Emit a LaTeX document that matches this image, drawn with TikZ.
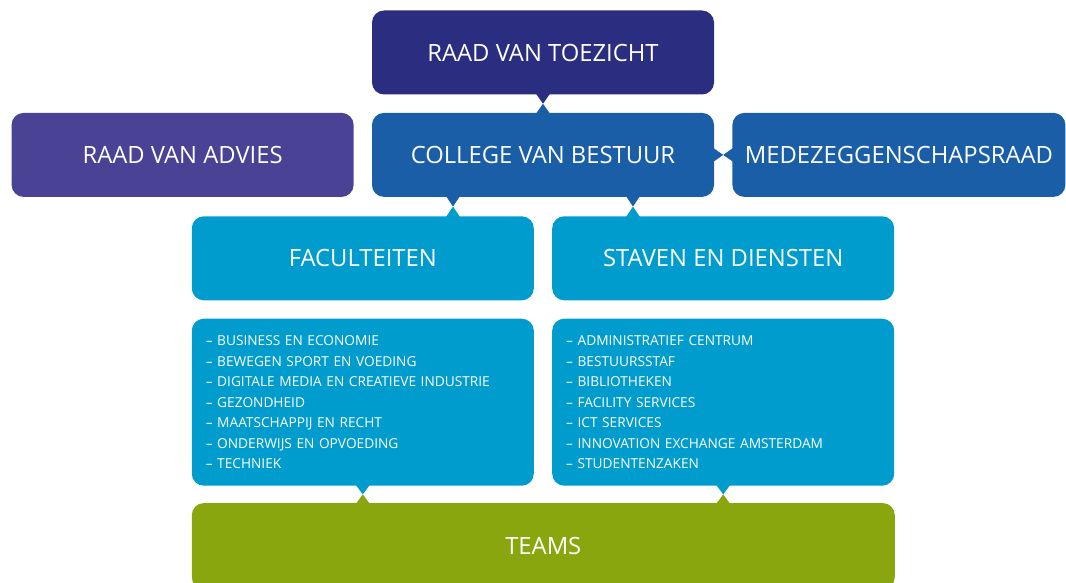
\documentclass[tikz,border=0pt]{standalone}
\usepackage{fontspec}
\setmainfont{Open Sans}
\usepackage{tikz}
\usetikzlibrary{positioning}
\usetikzlibrary{calc}
\definecolor{toezicht}{HTML}{2B2D80}
\definecolor{advies}{HTML}{4A4294}
\definecolor{bestuur}{HTML}{1A5EA8}
\definecolor{cyaan}{HTML}{009CCE}
\definecolor{teamgroen}{HTML}{8AA60F}

\begin{document}
\begin{tikzpicture}[x=1pt,y=-1pt,
	orgbox/.style={rounded corners=12pt,minimum width=342pt,minimum height=84pt,inner sep=0pt,text=white,font=\fontsize{23.8}{28}\selectfont},
	listbox/.style={orgbox,fill=cyaan,minimum height=167pt,text width=314pt,inner xsep=14pt,align=left,font=\fontsize{13.7}{20.5}\selectfont}]
\useasboundingbox (0,0) rectangle (1066,583);

%top row
\node[orgbox,fill=toezicht] (rvt) at (543,52.5) {RAAD VAN TOEZICHT};

%middle row
\node[orgbox,fill=bestuur,below=18pt of rvt] (cvb) {COLLEGE VAN BESTUUR};
\node[orgbox,fill=advies,left=18pt of cvb] (rva) {RAAD VAN ADVIES};
\node[orgbox,fill=bestuur,minimum width=333pt,right=18pt of cvb] (mzr) {MEDEZEGGENSCHAPSRAAD};

%faculteiten and staven
\node[orgbox,fill=cyaan,below left=19pt and 9pt of cvb.south] (fac) {FACULTEITEN};
\node[orgbox,fill=cyaan,below right=19pt and 9pt of cvb.south] (sta) {STAVEN EN DIENSTEN};

%lists
\node[listbox,below=18pt of fac] (facl) {%
	-- BUSINESS EN ECONOMIE\\
	-- BEWEGEN SPORT EN VOEDING\\
	-- DIGITALE MEDIA EN CREATIEVE INDUSTRIE\\
	-- GEZONDHEID\\
	-- MAATSCHAPPIJ EN RECHT\\
	-- ONDERWIJS EN OPVOEDING\\
	-- TECHNIEK};
\node[listbox,below=18pt of sta] (stal) {%
	-- ADMINISTRATIEF CENTRUM\\
	-- BESTUURSSTAF\\
	-- BIBLIOTHEKEN\\
	-- FACILITY SERVICES\\
	-- ICT SERVICES\\
	-- INNOVATION EXCHANGE AMSTERDAM\\
	-- STUDENTENZAKEN};

%teams
\node[orgbox,fill=teamgroen,minimum width=703pt,minimum height=86pt,below=17pt of facl.south west,anchor=north west] (teams) {TEAMS};

%vertical joints
\foreach \a/\b/\ca/\cb/\dx in {rvt/cvb/toezicht/bestuur/0,cvb/fac/bestuur/cyaan/-90,cvb/sta/bestuur/cyaan/90,facl/teams/cyaan/teamgroen/0,stal/teams/cyaan/teamgroen/0}{
	\coordinate (u) at ([xshift=\dx pt]\a.south);
	\coordinate (l) at (u |- \b.north);
	\coordinate (m) at ($(u)!0.5!(l)$);
	\fill[\ca] ([shift={(-7,-1)}]u) -- ([shift={(7,-1)}]u) -- (m) -- cycle;
	\fill[\cb] ([shift={(-7,1)}]l) -- ([shift={(7,1)}]l) -- (m) -- cycle;
}

%horizontal joint
\coordinate (hm) at ($(cvb.east)!0.5!(mzr.west)$);
\fill[bestuur] ([shift={(-1,-7)}]cvb.east) -- ([shift={(-1,7)}]cvb.east) -- (hm) -- cycle;
\fill[bestuur] ([shift={(1,-7)}]mzr.west) -- ([shift={(1,7)}]mzr.west) -- (hm) -- cycle;
\end{tikzpicture}
\end{document}
